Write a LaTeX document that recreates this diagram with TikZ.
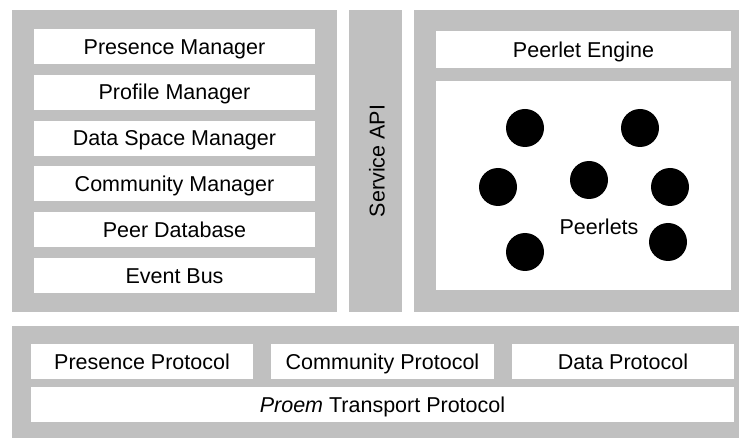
\documentclass[tikz,border=0pt]{standalone}
\usepackage{fontspec}
\setmainfont{Liberation Sans}
\definecolor{panelgray}{HTML}{C0C0C0}
\begin{document}
\begin{tikzpicture}[x=1pt,y=-1pt,
  every node/.style={inner sep=0pt,outer sep=0pt,font=\fontsize{21.5}{24}\selectfont,
    text height=15.4pt,text depth=0pt},
  panel/.style={fill=panelgray,draw=none,anchor=north west},
  wbox/.style={fill=white,draw=none,anchor=north west},
  peerlet/.style={circle,fill=black,minimum size=38pt}]
\useasboundingbox (0,0) rectangle (739,438);
\fill[white] (0,0) rectangle (739,438);

% upper left: managers
\node[panel,minimum width=325pt,minimum height=302pt] (core) at (12,10) {};
\node[wbox,minimum width=281pt,minimum height=35pt] (presm) at (34,29) {Presence Manager};
\node[wbox,minimum width=281pt,minimum height=35pt] (profm) at (34,74.8) {Profile Manager};
\node[wbox,minimum width=281pt,minimum height=35pt] (datam) at (34,120.6) {Data Space Manager};
\node[wbox,minimum width=281pt,minimum height=35pt] (commm) at (34,166.4) {Community Manager};
\node[wbox,minimum width=281pt,minimum height=35pt] (peerdb) at (34,212.2) {Peer Database};
\node[wbox,minimum width=281pt,minimum height=35pt] (evbus) at (34,258) {Event Bus};

% service API column
\node[panel,minimum width=53pt,minimum height=302pt] (api) at (349,10) {};
\node[rotate=90] (apilabel) at (377,161) {Service API};

% upper right: peerlet engine
\node[panel,minimum width=325pt,minimum height=302pt] (engine) at (414,10) {};
\node[wbox,minimum width=295pt,minimum height=37pt] (peng) at (436,31) {Peerlet Engine};
\node[wbox,minimum width=295pt,minimum height=209pt] (parea) at (436,81) {};
\node[peerlet] (p1) at (525,128) {};
\node[peerlet] (p2) at (640,128) {};
\node[peerlet] (p3) at (498,187) {};
\node[peerlet] (p4) at (589,180) {};
\node[peerlet] (p5) at (670,187) {};
\node[peerlet] (p6) at (525,252) {};
\node[peerlet] (p7) at (668,242) {};
\node (plabel) at (599,227) {Peerlets};

% bottom: protocols
\node[panel,minimum width=727pt,minimum height=112pt] (proto) at (12,326) {};
\node[wbox,minimum width=222pt,minimum height=35pt] (presp) at (31,344) {Presence Protocol};
\node[wbox,minimum width=223pt,minimum height=35pt] (commp) at (271,344) {Community Protocol};
\node[wbox,minimum width=222pt,minimum height=35pt] (datap) at (512,344) {Data Protocol};
\node[wbox,minimum width=703pt,minimum height=35pt] (transp) at (31,387) {\textit{Proem} Transport Protocol};
\end{tikzpicture}
\end{document}
